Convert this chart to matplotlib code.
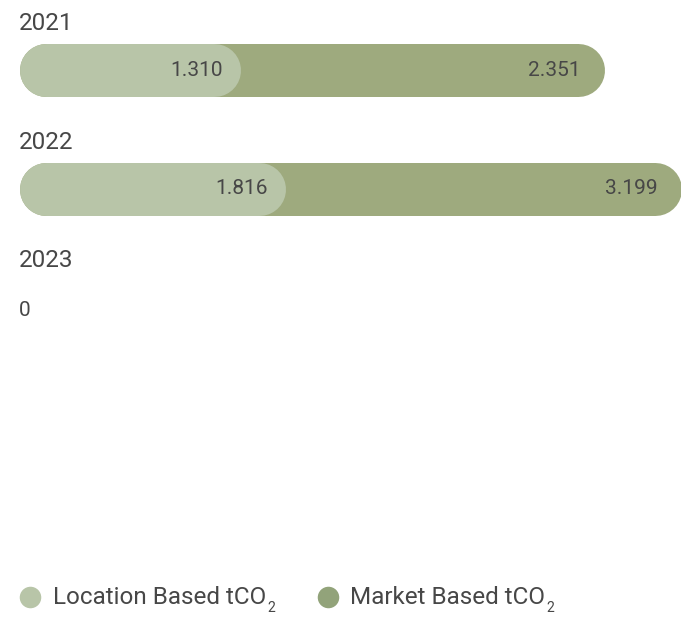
import matplotlib
matplotlib.use("Agg")
import matplotlib.pyplot as plt

# Datos (tCO2)
years = ["2021", "2022", "2023"]
location_based = [1310, 1816, 0]
market_based = [2351, 3199, 0]
legend_labels = ["Location Based tCO", "Market Based tCO"]

# Estilo
c_loc = "#b8c5a8"
c_mkt = "#9eaa7e"
c_mkt_dot = "#92a37a"
c_text = "#474747"
fw = "normal"
plt.rcParams["font.family"] = ["Roboto", "DejaVu Sans"]

W, H = 681, 618
fig = plt.figure(figsize=(W / 100, H / 100), dpi=100)

# filas: centro de la fila i en px = 70 + 118.5*i
row0, row_step = 70, 118.5
ylim = ((H - row0) / row_step, -row0 / row_step)

base = fig.add_axes([0, 0, 1, 1])
base.set_xlim(0, W)
base.set_ylim(*ylim)
base.axis("off")

# ejes para las barras (extremos de linea entre 45.5 y 654.5 px)
r = 26.5
pos = [(19 + r) / W, 0, (W - 19 - 2 * r) / W, 1]
ax_mkt = fig.add_axes(pos)
ax_mkt.set_xlim(-3508, 3199)
ax_loc = fig.add_axes(pos)
ax_loc.set_xlim(-580, 6270)
for ax in (ax_mkt, ax_loc):
    ax.set_ylim(*ylim)
    ax.axis("off")
    ax.patch.set_alpha(0)

lw = 2 * r * 0.72
for i, year in enumerate(years):
    base.text(19, i - 0.39, year, fontsize=17.5, color=c_text,
              fontweight=fw, va="center", ha="left")
    if location_based[i] == 0 and market_based[i] == 0:
        base.text(19, i + 0.03, "0", fontsize=15, color=c_text,
                  fontweight=fw, va="center", ha="left")
        continue
    for ax, vals, col, dx in ((ax_mkt, market_based, c_mkt, 2.0),
                              (ax_loc, location_based, c_loc, 6.5)):
        v = vals[i]
        ax.plot([ax.get_xlim()[0], v], [i, i], color=col, lw=lw,
                solid_capstyle="round", clip_on=False)
        ax.annotate(f"{v:,}".replace(",", "."), (v, i), xytext=(dx, 0),
                    textcoords="offset points", ha="right", va="center",
                    fontsize=15, color=c_text, fontweight=fw,
                    annotation_clip=False)

# Leyenda
renderer = fig.canvas.get_renderer()
ly = (597 - row0) / row_step
for cx, tx, lab, col in ((30, 53, legend_labels[0], c_loc),
                         (328, 350, legend_labels[1], c_mkt_dot)):
    base.plot(cx, ly, "o", ms=15.5, color=col, mec="none")
    t = base.text(tx, ly, lab, fontsize=17.5, color=c_text,
                  fontweight=fw, va="center", ha="left")
    bb = t.get_window_extent(renderer)
    base.text(bb.x1 + 1, ly + 0.09, "2", fontsize=10, color=c_text,
              fontweight=fw, va="center", ha="left")

fig.savefig("out.png", dpi=100)
